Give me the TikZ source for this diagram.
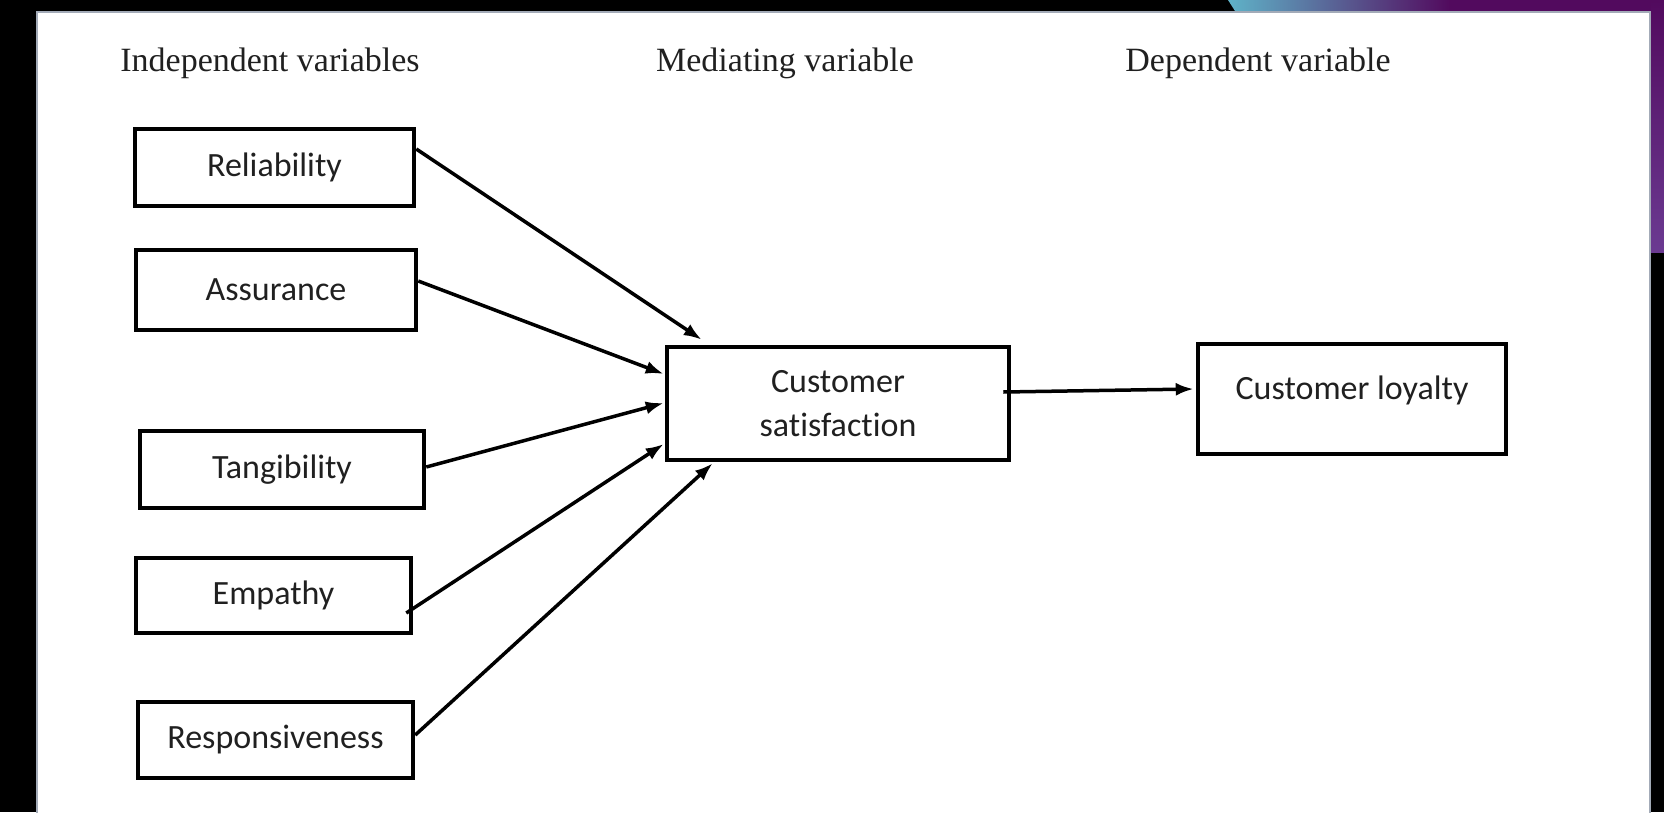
\documentclass[tikz,border=0pt]{standalone}
\usepackage{fontspec}
\setmainfont{Liberation Serif}
\newfontfamily\boxfont[Ligatures=NoCommon]{Carlito}
\usetikzlibrary{arrows.meta,calc}
\definecolor{bandteal}{HTML}{5FB3C8}
\definecolor{bandpurple}{HTML}{520A5E}
\definecolor{panelborder}{HTML}{A3ABB8}
\definecolor{txt}{HTML}{202020}
\tikzset{
  hdr/.style={font=\fontsize{34}{40}\selectfont, text=txt, anchor=base, inner sep=0pt},
  varbox/.style={draw=black, line width=4.5pt, fill=white, inner sep=0pt,
    font=\boxfont\fontsize{34}{44}\selectfont, text=txt, align=center},
  conn/.style={line width=3.5pt, -{Latex[length=18pt,width=13pt]}}
}
\begin{document}
\begin{tikzpicture}[x=1pt,y=-1pt]
\useasboundingbox (0,0) rectangle (1664,812);
% background
\fill[black] (0,0) rectangle (1664,812);
% top band
\shade[left color=bandteal, right color=bandpurple] (1228,0) -- (1450,0) -- (1450,11) -- (1235,11) -- cycle;
\fill[bandpurple] (1449,0) rectangle (1664,11);
\shade[top color=bandpurple, bottom color=bandpurple!85!blue!80!white] (1651,0) rectangle (1664,252);
% panel
\fill[white] (36,11) rectangle (1651,812);
\draw[panelborder, line width=2.5pt] (37,813) -- (37,12) -- (1650,12) -- (1650,813);

% headers
\node[hdr] (hind) at (270,71) {Independent variables};
\node[hdr] (hmed) at (785,71) {Mediating variable};
\node[hdr] (hdep) at (1258,71) {Dependent variable};

% boxes
\node[varbox, minimum width=279pt, minimum height=77pt] (rel) at (274.5,167.5) {Reliability};
\node[varbox, minimum width=280pt, minimum height=80pt] (ass) at (276,290) {Assurance};
\node[varbox, minimum width=284pt, minimum height=77pt] (tan) at (282,469.5) {Tangibility};
\node[varbox, minimum width=275pt, minimum height=75pt] (emp) at (273.5,595.5) {Empathy};
\node[varbox, minimum width=275pt, minimum height=76pt] (res) at (275.5,740) {Responsiveness};
\node[varbox, minimum width=342pt, minimum height=113pt] (cs) at (838,403.5) {Customer\\satisfaction};
\node[varbox, minimum width=308pt, minimum height=110pt, text height=0pt, text depth=0pt] (cl) at (1352,399) {Customer loyalty};

% connectors
\draw[conn] ([yshift=18.5pt]rel.east) -- ([xshift=37pt,yshift=5pt]cs.north west);
\draw[conn] ([yshift=9pt]ass.east) -- ([xshift=-1pt,yshift=29.5pt]cs.west);
\draw[conn] ([yshift=2.5pt]tan.east) -- ([xshift=-1pt,yshift=0.5pt]cs.west);
\draw[conn] ([xshift=-7pt,yshift=-17.5pt]emp.east) -- ([xshift=-1pt,yshift=-40.5pt]cs.west);
\draw[conn] ([yshift=5pt]res.east) -- ([xshift=48pt,yshift=-1pt]cs.south west);
\draw[conn] ([xshift=-8pt,yshift=11.5pt]cs.east) -- ([xshift=-2pt,yshift=10pt]cl.west);
\end{tikzpicture}
\end{document}
